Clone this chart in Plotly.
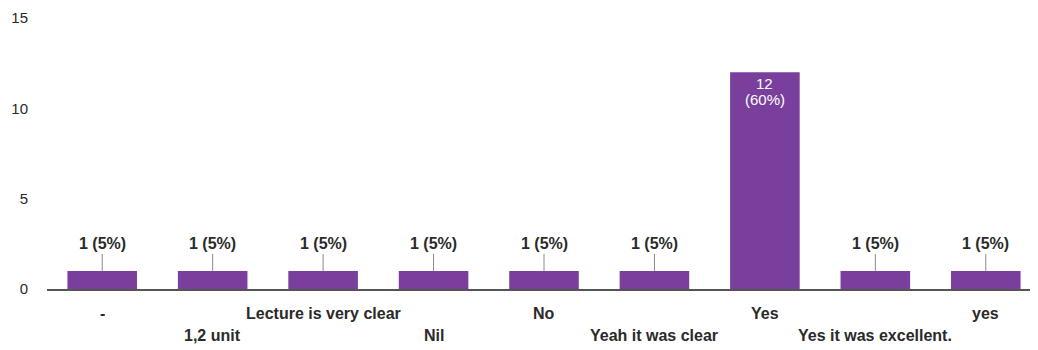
import plotly.graph_objects as go

categories = ["-", "1,2 unit", "Lecture is very clear", "Nil", "No",
              "Yeah it was clear", "Yes", "Yes it was excellent.", "yes"]
counts = [1, 1, 1, 1, 1, 1, 12, 1, 1]
percents = [5, 5, 5, 5, 5, 5, 60, 5, 5]

font = "Liberation Sans, Arial, sans-serif"
purple = "#7a3f9c"
ink = "#2a2a2a"

fig = go.Figure(go.Bar(x=categories, y=counts, marker_color=purple,
                       marker_line_width=0, hoverinfo="skip"))

annots = []
for i, (c, n, p) in enumerate(zip(categories, counts, percents)):
    # value labels: small bars get a leader line, the big one gets text inside
    if n > 3:
        annots.append(dict(x=c, y=n, text=f"{n}", showarrow=False,
                           yanchor="top", yshift=-1,
                           font=dict(family=font, size=15, color="white")))
        annots.append(dict(x=c, y=n, text=f"({p}%)", showarrow=False,
                           yanchor="top", yshift=-17,
                           font=dict(family=font, size=15, color="white")))
    else:
        annots.append(dict(x=c, y=n, text=f"<b>{n} ({p}%)</b>", showarrow=True,
                           arrowhead=0, arrowwidth=1, arrowcolor="#8a8a8a",
                           ax=0, ay=-27,
                           font=dict(family=font, size=16, color=ink)))
    # staggered category labels
    annots.append(dict(x=c, y=0, text=f"<b>{c}</b>", showarrow=False,
                       yanchor="middle",
                       yshift=-24 if i % 2 == 0 else -46,
                       font=dict(family=font, size=16, color=ink)))

# page body has an 8px margin, so margins are shifted to compensate
fig.update_layout(
    width=1038, height=350,
    margin=dict(l=39, r=5, t=10, b=69),
    plot_bgcolor="white", paper_bgcolor="white",
    bargap=0.37, showlegend=False,
    annotations=annots,
    font=dict(family=font, color=ink),
)
fig.update_xaxes(showticklabels=False, showline=True, linecolor="#555",
                 linewidth=1.5, showgrid=False, ticks="", automargin=False)
fig.update_yaxes(range=[0, 15], tickvals=[0, 5, 10, 15], showgrid=False,
                 zeroline=False, ticklabelstandoff=18, automargin=False,
                 tickfont=dict(family=font, size=15, color=ink))

fig.write_html("out.html")
